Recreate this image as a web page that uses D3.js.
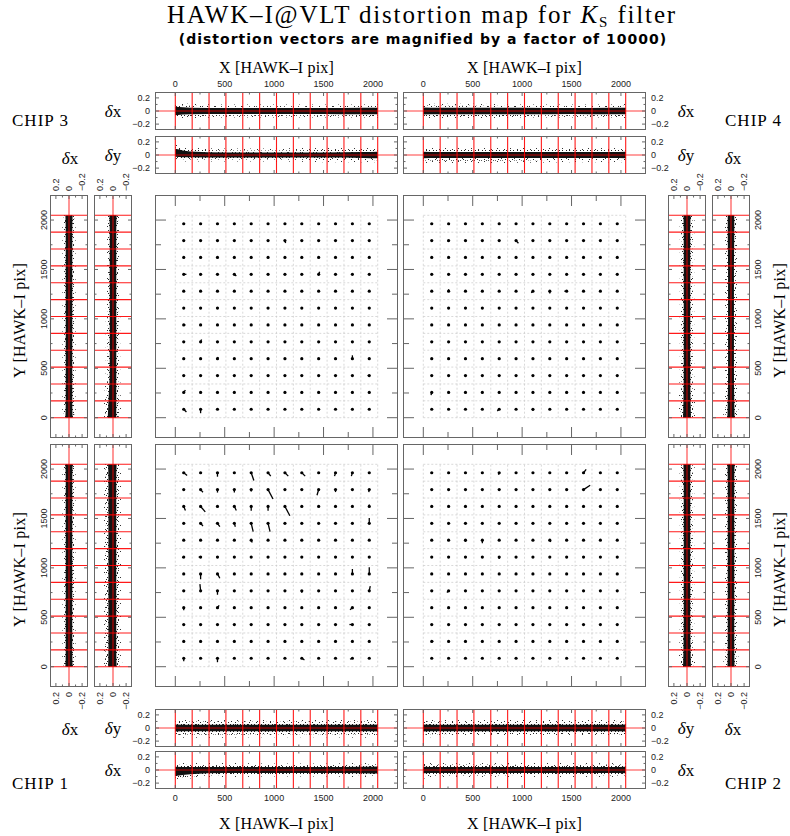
<!DOCTYPE html>
<html>
<head>
<meta charset="utf-8">
<script src="https://cdn.jsdelivr.net/npm/d3@7"></script>
<style>
  body { margin: 0; background: #fff; }
</style>
</head>
<body>
<div id="plot"></div>
<script>
// ---------------------------//
//            DATA            //
// ---------------------------//

var gridN = 12;          // cells per chip side
var detSize = 2048;      // HAWK-I chip size in pix
var pixTicksMajor = [0, 500, 1000, 1500, 2000];
var pixTicksMinor = [250, 750, 1250, 1750];
var pixTickLabels = ["0", "500", "1000", "1500", "2000"];
var dTicksMajor = [-0.2, 0, 0.2];
var dTicksMinor = [-0.1, 0.1];
var dTickLabels = ["\u22120.2", "0", "0.2"];

// residual clouds: positions along the chip, then [centre, core half-width, halo half-width]
var bandPos = [0, 150, 500, 1000, 1500, 1900, 2048];
// chip 3
var c3_dxX = [[0, .065, .12], [0, .05, .11], [0, .045, .1], [0, .045, .1], [0, .045, .1], [0, .05, .1], [0, .05, .11]];
var c3_dyX = [[.035, .06, .13], [.01, .045, .11], [0, .04, .1], [0, .04, .1], [0, .04, .11], [0, .045, .11], [0, .05, .11]];
var c3_dxY = [[0, .055, .11], [0, .05, .1], [0, .05, .1], [0, .05, .1], [0, .05, .1], [0, .05, .1], [0, .055, .11]];
var c3_dyY = [[.015, .065, .14], [.01, .06, .13], [0, .05, .11], [0, .05, .11], [0, .05, .1], [0, .05, .1], [0, .055, .11]];
// chip 4
var c4_dxX = [[0, .055, .11], [0, .05, .11], [0, .05, .11], [0, .05, .1], [0, .045, .1], [0, .05, .1], [0, .05, .11]];
var c4_dyX = [[0, .05, .12], [0, .045, .13], [0, .045, .13], [0, .045, .12], [0, .045, .11], [0, .045, .11], [0, .05, .11]];
var c4_dyY = [[0, .06, .14], [0, .055, .13], [0, .05, .11], [0, .05, .11], [0, .05, .11], [0, .05, .11], [0, .055, .12]];
var c4_dxY = [[0, .055, .12], [0, .05, .11], [0, .045, .1], [0, .045, .1], [0, .045, .1], [0, .05, .1], [0, .05, .11]];
// chip 1
var c1_dyX = [[0, .055, .15], [0, .05, .15], [0, .05, .15], [0, .05, .14], [0, .05, .14], [0, .05, .15], [0, .055, .15]];
var c1_dxX = [[-.02, .07, .13], [-.01, .055, .12], [0, .045, .11], [0, .045, .1], [0, .045, .1], [0, .05, .11], [0, .055, .12]];
var c1_dxY = [[0, .055, .11], [0, .05, .1], [0, .05, .1], [0, .05, .1], [0, .05, .1], [0, .05, .1], [0, .055, .11]];
var c1_dyY = [[.01, .065, .15], [.01, .06, .15], [.01, .06, .14], [.01, .06, .14], [.01, .06, .14], [.01, .06, .14], [.01, .065, .15]];
// chip 2
var c2_dyX = [[0, .055, .14], [0, .05, .14], [0, .05, .13], [0, .05, .13], [0, .05, .13], [0, .05, .13], [0, .055, .14]];
var c2_dxX = [[0, .05, .13], [0, .045, .12], [0, .045, .12], [0, .045, .11], [0, .045, .11], [0, .045, .12], [0, .05, .12]];
var c2_dyY = [[0, .06, .13], [0, .055, .12], [0, .05, .11], [0, .05, .11], [0, .05, .11], [0, .05, .11], [0, .055, .12]];
var c2_dxY = [[0, .055, .12], [0, .05, .11], [0, .05, .1], [0, .05, .1], [0, .05, .1], [0, .05, .1], [0, .055, .11]];

// distortion vectors, magnified x10000: [cell column, cell row (0 = bottom), dx, dy] in pix
var vecChip1 = [
  [0, 11, 34, -27], [2, 11, 0, -40], [4, 11, 27, -78], [5, 11, 27, -34], [6, 11, 34, -34], [7, 11, 34, -34], [9, 11, -10, -34], [10, 11, -10, -34],
  [1, 10, 24, -27], [2, 10, 0, -30], [3, 10, 0, -30], [4, 10, 0, -20], [5, 10, 50, -95], [8, 10, -17, -57], [9, 10, 0, -25], [11, 10, -5, -25],
  [0, 9, 17, -40], [1, 9, 47, -54], [3, 9, 20, -40], [4, 9, 0, -44], [5, 9, 0, -44], [6, 9, 50, -94], [11, 9, 0, 20],
  [1, 8, 24, -27], [2, 8, 24, -34], [3, 8, 10, -34], [4, 8, 20, -84], [5, 8, 20, -84], [11, 8, 0, 54],
  [4, 7, 10, -24],
  [0, 6, -17, -7], [1, 6, -20, 0],
  [1, 5, 0, -54], [2, 5, 24, -44], [10, 5, 0, 50], [11, 5, 0, 67],
  [1, 4, -7, 67], [2, 4, 0, -40], [4, 4, -10, -10], [7, 4, 0, -20], [11, 4, 10, 47],
  [0, 3, 0, -25], [2, 3, 17, 24], [10, 3, -24, -20],
  [10, 2, -30, 0],
  [0, 0, 0, -30], [2, 0, 0, -40], [7, 0, 27, -17], [10, 0, -24, -10]
];
var vecChip2 = [
  [4, 11, -7, -20], [9, 11, 27, 34],
  [8, 10, 0, -10], [9, 10, 67, 44],
  [2, 7, 0, -17], [3, 7, 0, -30], [7, 7, 10, -17],
  [4, 6, 0, -20],
  [1, 4, -17, -17],
  [0, 1, 17, 0],
  [9, 0, 10, 0]
];
var vecChip3 = [
  [6, 10, 7, -24],
  [0, 8, 27, 0], [3, 8, 20, -17], [8, 8, 10, 27],
  [0, 5, 17, 0],
  [1, 4, 10, 24],
  [2, 3, 7, 17], [10, 3, 0, 34],
  [11, 2, -17, 0],
  [0, 1, 17, 24],
  [0, 0, 27, -27], [1, 0, 0, -40], [10, 0, 0, -10]
];
var vecChip4 = [
  [1, 11, 10, -10], [4, 11, 0, 10],
  [1, 10, -10, -10], [2, 10, 10, -7], [5, 10, 24, -27],
  [9, 9, 0, 10],
  [1, 7, 0, 20], [6, 7, -17, -17], [7, 7, 0, -24], [8, 7, -24, 0],
  [0, 1, -7, -27],
  [4, 0, -20, -17], [6, 0, 0, -17]
];

// ---------------------------//
//           LAYOUT           //
// ---------------------------//

var panelSize = 243;
var colX = [155, 403];
var rowY = [195, 444];
var stripW = 38;
var detDomain = [-205.5, 2253.5];
var dDomain = [-0.29, 0.29];
var frameColor = "#666";
var serif = "'Liberation Serif', 'DejaVu Serif', serif";
var sans = "'Liberation Sans', Arial, sans-serif";

var chips = [
  {name: "CHIP 3", col: 0, row: 0, vec: vecChip3, hStrips: [["x", c3_dxX], ["y", c3_dyX]], vStrips: [["x", c3_dxY], ["y", c3_dyY]]},
  {name: "CHIP 4", col: 1, row: 0, vec: vecChip4, hStrips: [["x", c4_dxX], ["y", c4_dyX]], vStrips: [["y", c4_dyY], ["x", c4_dxY]]},
  {name: "CHIP 1", col: 0, row: 1, vec: vecChip1, hStrips: [["y", c1_dyX], ["x", c1_dxX]], vStrips: [["x", c1_dxY], ["y", c1_dyY]]},
  {name: "CHIP 2", col: 1, row: 1, vec: vecChip2, hStrips: [["y", c2_dyX], ["x", c2_dxX]], vStrips: [["y", c2_dyY], ["x", c2_dxY]]}
];
var hStripY = [[92, 136], [709, 751]];
var vStripX = [[50, 94], [668, 712]];

var svg = d3.select("#plot")
  .append("svg")
  .attr("width", 790)
  .attr("height", 836);

// speckle fills for the sparse part of the residual clouds
var defs = svg.append("defs");
function speckle(id, size, color, pts) {
  var p = defs.append("pattern")
    .attr("id", id)
    .attr("width", size).attr("height", size)
    .attr("patternUnits", "userSpaceOnUse");
  pts.forEach(function(q) {
    p.append("rect").attr("x", q[0]).attr("y", q[1]).attr("width", 1).attr("height", 1).attr("fill", color);
  });
}
speckle("speckSparse", 13, "#333", [[0, 0], [7, 2], [3, 5], [10, 6], [1, 9], [8, 11], [5, 12]]);
speckle("speckDense", 7, "#222", [[0, 0], [4, 1], [2, 3], [6, 3], [1, 5], [5, 6], [3, 6]]);

var gridLines = d3.range(gridN + 1).map(function(k) { return k * detSize / gridN; });

function ticks(g, list) {
  g.selectAll(null)
    .data(list)
    .enter()
    .append("line")
    .attr("x1", function(d) { return d[0]; })
    .attr("y1", function(d) { return d[1]; })
    .attr("x2", function(d) { return d[2]; })
    .attr("y2", function(d) { return d[3]; })
    .attr("stroke", frameColor)
    .attr("stroke-width", 1);
}

// ---------------------------//
//        MAIN PANELS         //
// ---------------------------//

function drawMain(x0, y0, vecs) {
  var xs = d3.scaleLinear().domain(detDomain).range([x0, x0 + panelSize]);
  var ys = d3.scaleLinear().domain(detDomain).range([y0 + panelSize, y0]);
  var g = svg.append("g");

  // dashed cell grid
  g.selectAll(null).data(gridLines).enter().append("line")
    .attr("x1", function(d) { return xs(d); }).attr("x2", function(d) { return xs(d); })
    .attr("y1", ys(0)).attr("y2", ys(detSize))
    .attr("stroke", "#c8c8c8").attr("stroke-width", 0.7).attr("stroke-dasharray", "2,2");
  g.selectAll(null).data(gridLines).enter().append("line")
    .attr("y1", function(d) { return ys(d); }).attr("y2", function(d) { return ys(d); })
    .attr("x1", xs(0)).attr("x2", xs(detSize))
    .attr("stroke", "#c8c8c8").attr("stroke-width", 0.7).attr("stroke-dasharray", "2,2");

  // frame and ticks
  g.append("rect")
    .attr("x", x0 + 0.5).attr("y", y0 + 0.5)
    .attr("width", panelSize - 1).attr("height", panelSize - 1)
    .attr("fill", "none").attr("stroke", frameColor);
  var tl = [];
  var top = y0, bot = y0 + panelSize, left = x0, right = x0 + panelSize;
  pixTicksMajor.forEach(function(v) {
    tl.push([xs(v), top, xs(v), top + 11], [xs(v), bot, xs(v), bot - 11]);
    tl.push([left, ys(v), left + 11, ys(v)], [right, ys(v), right - 11, ys(v)]);
  });
  pixTicksMinor.forEach(function(v) {
    tl.push([xs(v), top, xs(v), top + 6], [xs(v), bot, xs(v), bot - 6]);
    tl.push([left, ys(v), left + 6, ys(v)], [right, ys(v), right - 6, ys(v)]);
  });
  ticks(g, tl);

  // measurement cells
  var cells = [];
  for (var i = 0; i < gridN; i++) {
    for (var j = 0; j < gridN; j++) {
      cells.push([(i + 0.5) * detSize / gridN, (j + 0.5) * detSize / gridN]);
    }
  }
  var cw = detSize / gridN;
  g.selectAll(null).data(vecs).enter().append("line")
    .attr("x1", function(d) { return xs((d[0] + 0.5) * cw); })
    .attr("y1", function(d) { return ys((d[1] + 0.5) * cw); })
    .attr("x2", function(d) { return xs((d[0] + 0.5) * cw + d[2]); })
    .attr("y2", function(d) { return ys((d[1] + 0.5) * cw + d[3]); })
    .attr("stroke", "#000").attr("stroke-width", 1.3);
  g.selectAll(null).data(cells).enter().append("circle")
    .attr("cx", function(d) { return xs(d[0]); })
    .attr("cy", function(d) { return ys(d[1]); })
    .attr("r", 1.6)
    .attr("fill", "#000");
  return {xs: xs, ys: ys};
}

// ---------------------------//
//   RESIDUAL STRIPS vs X     //
// ---------------------------//

function drawHStrip(xs, y0, rows) {
  var ds = d3.scaleLinear().domain(dDomain).range([y0 + stripW, y0]);
  var x0 = xs.range()[0], x1 = xs.range()[1];
  var g = svg.append("g");
  var idx = d3.range(bandPos.length);
  function area(w) {
    return d3.area().curve(d3.curveMonotoneX)
      .x(function(i) { return xs(bandPos[i]); })
      .y0(function(i) { return ds(rows[i][0] - w(rows[i])); })
      .y1(function(i) { return ds(rows[i][0] + w(rows[i])); });
  }
  g.append("path").datum(idx).attr("d", area(function(r) { return r[2]; })).attr("fill", "url(#speckSparse)");
  g.append("path").datum(idx).attr("d", area(function(r) { return (r[1] + r[2]) / 2; })).attr("fill", "url(#speckDense)");
  g.append("path").datum(idx).attr("d", area(function(r) { return r[1]; })).attr("fill", "#111");

  // red cell boundaries and zero line
  g.selectAll(null).data(gridLines).enter().append("line")
    .attr("x1", function(d) { return xs(d); }).attr("x2", function(d) { return xs(d); })
    .attr("y1", y0).attr("y2", y0 + stripW)
    .attr("stroke", "#ff0000").attr("stroke-width", 1.1).attr("stroke-opacity", 0.9);
  g.append("line")
    .attr("x1", x0).attr("x2", x1).attr("y1", ds(0)).attr("y2", ds(0))
    .attr("stroke", "#ff0000").attr("stroke-width", 1.1).attr("stroke-opacity", 0.75);

  g.append("rect")
    .attr("x", x0 + 0.5).attr("y", y0 + 0.5)
    .attr("width", x1 - x0 - 1).attr("height", stripW - 1)
    .attr("fill", "none").attr("stroke", frameColor);
  var tl = [];
  pixTicksMajor.forEach(function(v) { tl.push([xs(v), y0, xs(v), y0 + 4], [xs(v), y0 + stripW, xs(v), y0 + stripW - 4]); });
  pixTicksMinor.forEach(function(v) { tl.push([xs(v), y0, xs(v), y0 + 2.5], [xs(v), y0 + stripW, xs(v), y0 + stripW - 2.5]); });
  dTicksMajor.forEach(function(v) { tl.push([x0, ds(v), x0 + 4, ds(v)], [x1, ds(v), x1 - 4, ds(v)]); });
  dTicksMinor.forEach(function(v) { tl.push([x0, ds(v), x0 + 2.5, ds(v)], [x1, ds(v), x1 - 2.5, ds(v)]); });
  ticks(g, tl);
  return ds;
}

// ---------------------------//
//   RESIDUAL STRIPS vs Y     //
// ---------------------------//

function drawVStrip(x0, ys, rows) {
  var ds = d3.scaleLinear().domain(dDomain).range([x0 + stripW, x0]);
  var y1 = ys.range()[0], y0 = ys.range()[1];
  var g = svg.append("g");
  var idx = d3.range(bandPos.length);
  function area(w) {
    return d3.area().curve(d3.curveMonotoneY)
      .y(function(i) { return ys(bandPos[i]); })
      .x0(function(i) { return ds(rows[i][0] - w(rows[i])); })
      .x1(function(i) { return ds(rows[i][0] + w(rows[i])); });
  }
  g.append("path").datum(idx).attr("d", area(function(r) { return r[2]; })).attr("fill", "url(#speckSparse)");
  g.append("path").datum(idx).attr("d", area(function(r) { return (r[1] + r[2]) / 2; })).attr("fill", "url(#speckDense)");
  g.append("path").datum(idx).attr("d", area(function(r) { return r[1]; })).attr("fill", "#111");

  g.selectAll(null).data(gridLines).enter().append("line")
    .attr("y1", function(d) { return ys(d); }).attr("y2", function(d) { return ys(d); })
    .attr("x1", x0).attr("x2", x0 + stripW)
    .attr("stroke", "#ff0000").attr("stroke-width", 1.1).attr("stroke-opacity", 0.9);
  g.append("line")
    .attr("y1", y0).attr("y2", y1).attr("x1", ds(0)).attr("x2", ds(0))
    .attr("stroke", "#ff0000").attr("stroke-width", 1.1).attr("stroke-opacity", 0.75);

  g.append("rect")
    .attr("x", x0 + 0.5).attr("y", y0 + 0.5)
    .attr("width", stripW - 1).attr("height", y1 - y0 - 1)
    .attr("fill", "none").attr("stroke", frameColor);
  var tl = [];
  var xr = x0 + stripW;
  pixTicksMajor.forEach(function(v) { tl.push([x0, ys(v), x0 + 4, ys(v)], [xr, ys(v), xr - 4, ys(v)]); });
  pixTicksMinor.forEach(function(v) { tl.push([x0, ys(v), x0 + 2.5, ys(v)], [xr, ys(v), xr - 2.5, ys(v)]); });
  dTicksMajor.forEach(function(v) { tl.push([ds(v), y0, ds(v), y0 + 4], [ds(v), y1, ds(v), y1 - 4]); });
  dTicksMinor.forEach(function(v) { tl.push([ds(v), y0, ds(v), y0 + 2.5], [ds(v), y1, ds(v), y1 - 2.5]); });
  ticks(g, tl);
  return ds;
}

// ---------------------------//
//           TEXT             //
// ---------------------------//

function label(x, y, str, size, anchor, rotate) {
  var t = svg.append("text")
    .attr("transform", "translate(" + x + "," + y + ")" + (rotate ? " rotate(" + rotate + ")" : ""))
    .attr("text-anchor", anchor || "middle")
    .attr("dy", "0.35em")
    .style("font-family", serif)
    .style("font-size", size + "px")
    .attr("fill", "#000")
    .text(str);
  return t;
}
function tickLabel(x, y, str, anchor, rotate) {
  return svg.append("text")
    .attr("transform", "translate(" + x + "," + y + ")" + (rotate ? " rotate(" + rotate + ")" : ""))
    .attr("text-anchor", anchor)
    .attr("dy", "0.35em")
    .style("font-family", sans)
    .style("font-size", "9px")
    .attr("fill", "#222")
    .text(str);
}
function deltaLabel(x, y, comp) {
  var t = svg.append("text")
    .attr("x", x).attr("y", y)
    .attr("text-anchor", "middle")
    .attr("dy", "0.35em")
    .style("font-family", serif)
    .style("font-size", "17px")
    .attr("fill", "#000");
  t.append("tspan").style("font-style", "italic").text("\u03b4");
  t.append("tspan").text(comp);
}
function fitWidth(t, target) {
  var n = t.text().length;
  var w = t.node().getComputedTextLength();
  t.attr("letter-spacing", ((target - w) / n) + "px");
}

// ---------------------------//
//        DRAW CHIPS          //
// ---------------------------//

chips.forEach(function(c) {
  var px = colX[c.col], py = rowY[c.row];
  var sc = drawMain(px, py, c.vec);

  // strips vs X
  c.hStrips.forEach(function(s, k) {
    var y0 = hStripY[c.row][k];
    var ds = drawHStrip(sc.xs, y0, s[1]);
    var lx = c.col === 0 ? px - 5 : px + panelSize + 5;
    dTicksMajor.forEach(function(v, m) {
      tickLabel(lx, ds(v), dTickLabels[m], c.col === 0 ? "end" : "start");
    });
    deltaLabel(c.col === 0 ? 113 : 686, y0 + stripW / 2, s[0]);
  });
  // X tick labels and title
  var xly = c.row === 0 ? hStripY[0][0] - 8 : hStripY[1][1] + stripW + 9;
  pixTicksMajor.forEach(function(v, m) { tickLabel(sc.xs(v), xly, pixTickLabels[m], "middle"); });
  var xt = label(px + panelSize / 2, c.row === 0 ? 67 : 823, "X [HAWK\u2013I pix]", 16);
  fitWidth(xt, 115);

  // strips vs Y
  c.vStrips.forEach(function(s, k) {
    var x0 = vStripX[c.col][k];
    var ds = drawVStrip(x0, sc.ys, s[1]);
    dTicksMajor.forEach(function(v, m) {
      if (c.row === 0) tickLabel(ds(v), py - 4, dTickLabels[m], "start", -90);
      else tickLabel(ds(v), py + panelSize + 5, dTickLabels[m], "end", -90);
    });
  });
  var outer = c.col === 0 ? vStripX[0][0] : vStripX[1][1];
  var vk = c.col === 0 ? 0 : 1;
  deltaLabel(vStripX[c.col][vk] + stripW / 2 + (c.col === 0 ? 1 : 2), c.row === 0 ? 158 : 729, c.vStrips[vk][0]);
  var ylx = c.col === 0 ? outer - 6 : outer + stripW + 8;
  pixTicksMajor.forEach(function(v, m) { tickLabel(ylx, sc.ys(v), pixTickLabels[m], "middle", -90); });
  var yt = label(c.col === 0 ? 19 : 779, py + panelSize / 2 + 4, "Y [HAWK\u2013I pix]", 16, "middle", -90);
  fitWidth(yt, 115);

  // chip name
  var cl = label(c.col === 0 ? 12 : 725, c.row === 0 ? 120 : 783, c.name, 17, "start");
  fitWidth(cl, 57);
});

// ---------------------------//
//           TITLE            //
// ---------------------------//

var title = svg.append("text")
  .attr("x", 422).attr("y", 23)
  .attr("text-anchor", "middle")
  .style("font-family", serif)
  .style("font-size", "25px")
  .attr("fill", "#000");
title.append("tspan").text("HAWK\u2013I@VLT distortion map for ");
title.append("tspan").style("font-style", "italic").text("K");
title.append("tspan").attr("dy", 4).style("font-size", "15px").text("S");
title.append("tspan").attr("dy", -4).text(" filter");
fitWidth(title, 510);

var subtitle = svg.append("text")
  .attr("x", 423).attr("y", 44)
  .attr("text-anchor", "middle")
  .style("font-family", "'DejaVu Sans', sans-serif")
  .style("font-weight", "bold")
  .style("font-size", "14px")
  .attr("fill", "#000")
  .text("(distortion vectors are magnified by a factor of 10000)");
fitWidth(subtitle, 488);
</script>
</body>
</html>
